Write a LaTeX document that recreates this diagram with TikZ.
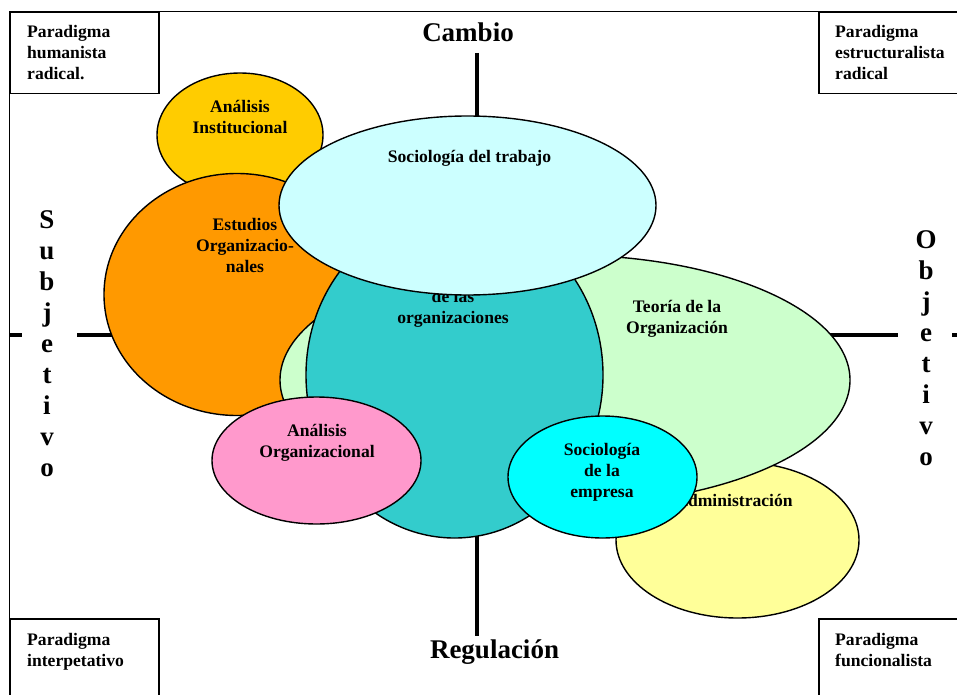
\documentclass[tikz,border=0pt]{standalone}
\usepackage{fontspec}
\setmainfont{Liberation Serif}
\usetikzlibrary{shapes.geometric}
\definecolor{oro}{HTML}{FFCC00}
\definecolor{naranja}{HTML}{FF9900}
\definecolor{verdeclaro}{HTML}{CCFFCC}
\definecolor{turquesa}{HTML}{33CCCC}
\definecolor{celeste}{HTML}{CCFFFF}
\definecolor{rosa}{HTML}{FF99CC}
\definecolor{aguamarina}{HTML}{00FFFF}
\definecolor{amarillo}{HTML}{FFFF99}

\begin{document}
\begin{tikzpicture}[x=1pt,y=-1pt]
\tikzstyle{every node}=[inner sep=0pt, align=center, font=\bfseries\fontsize{17.6}{21}\selectfont]
\tikzstyle{mancha}=[draw, ellipse, line width=1.4pt]
\tikzstyle{caja}=[draw, rectangle, line width=1.5pt, anchor=north west]
\tikzstyle{paradigma}=[anchor=north west, align=left]
\tikzstyle{letrero}=[font=\bfseries\fontsize{27}{31}\selectfont]
\tikzstyle{eje}=[line width=4.5pt]
\useasboundingbox (0,0) rectangle (957,695);
\clip (0,0) rectangle (957,695);
\fill[white] (0,0) rectangle (957,695);
% marco
\draw[line width=1pt] (9,700) -- (9,12) -- (960,12);
% ejes
\coordinate (cambioN) at (477,53);
\coordinate (regulS) at (477,636);
\coordinate (bordeO) at (9,335);
\coordinate (subjI) at (22,335);
\coordinate (subjD) at (77,335);
\coordinate (objI) at (898,335);
\coordinate (objD) at (952,335);
\coordinate (bordeE) at (960,335);
\draw[eje] (cambioN) -- (regulS);
\draw[eje] (bordeO) -- (subjI);
\draw[eje] (subjD) -- (objI);
\draw[eje] (objD) -- (bordeE);
\draw (468,42) node (cambio) [letrero, anchor=base] {Cambio};
\draw (494.5,658) node (regulacion) [letrero, anchor=base] {Regulación};
\draw (47,210) node (subjetivo) [letrero, anchor=north] {S\\u\\b\\j\\e\\t\\i\\v\\o};
\draw (926,230) node (objetivo) [letrero, anchor=north] {O\\b\\j\\e\\t\\i\\v\\o};
% paradigmas
\draw (9,12) node (humanista) [caja, minimum width=149pt, minimum height=81pt] {};
\draw (818,12) node (estructuralista) [caja, minimum width=150pt, minimum height=81pt] {};
\draw (9,618) node (interpretativo) [caja, minimum width=149pt, minimum height=90pt] {};
\draw (818,618) node (funcionalista) [caja, minimum width=150pt, minimum height=90pt] {};
\draw (27,25) node (thumanista) [paradigma] {Paradigma\\humanista\\radical.};
\draw (835,25) node (testructuralista) [paradigma] {Paradigma\\estructuralista\\radical};
\draw (27,633) node (tinterpretativo) [paradigma] {Paradigma\\interpetativo};
\draw (835,633) node (tfuncionalista) [paradigma] {Paradigma\\funcionalista};
% disciplinas
\draw (240,135) node (inst) [mancha, fill=oro, minimum width=166pt, minimum height=124pt] {};
\draw (240,117) node (tinst) {Análisis\\Institucional};
\draw (237,294.5) node (estudios) [mancha, fill=naranja, minimum width=266pt, minimum height=242pt] {};
\draw (245,245) node (testudios) {Estudios\\Organizacio-\\nales};
\draw (737.5,540) node (admin) [mancha, fill=amarillo, minimum width=243pt, minimum height=156pt] {};
\draw (734,506) node (tadmin) [anchor=base] {Administración};
\draw (565,380) node (teoria) [mancha, fill=verdeclaro, minimum width=570pt, minimum height=250pt] {};
\draw (677,318.5) node (tteoria) {Teoría de la\\Organización};
\draw (454.5,375) node (socorg) [mancha, fill=turquesa, minimum width=297pt, minimum height=326pt] {};
\draw (453,309) node (tsocorg) {de las\\organizaciones};
\draw (467.5,205.5) node (trabajo) [mancha, fill=celeste, minimum width=377pt, minimum height=179pt] {};
\draw (469.5,163) node (ttrabajo) [anchor=base] {Sociología del trabajo};
\draw (316.5,460.5) node (analisis) [mancha, fill=rosa, minimum width=209pt, minimum height=127pt] {};
\draw (317,442.5) node (tanalisis) {Análisis\\Organizacional};
\draw (602.5,477) node (empresa) [mancha, fill=aguamarina, minimum width=189pt, minimum height=122pt] {};
\draw (602,472) node (tempresa) {Sociología\\de la\\empresa};
\end{tikzpicture}
\end{document}
